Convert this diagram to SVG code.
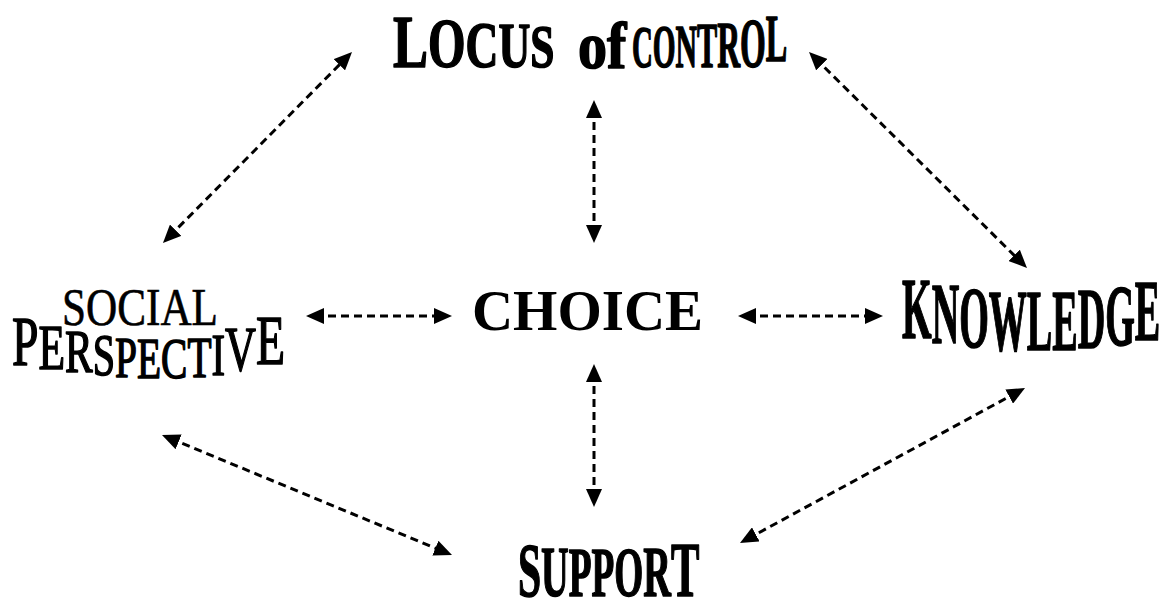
<svg xmlns="http://www.w3.org/2000/svg" width="1173" height="612" viewBox="0 0 1173 612">
  <style>
    .w { font-family: "Liberation Serif", "Times New Roman", serif; fill: #000; }
    .b { font-weight: bold; }
    .heavy { stroke: #000; stroke-width: 1.6; stroke-linejoin: round; }
    .link { fill: none; stroke: #000; stroke-width: 3; stroke-dasharray: 8 5; }
  </style>
  <defs>
    <marker id="head" markerUnits="userSpaceOnUse" markerWidth="18" markerHeight="16" viewBox="0 0 18 16" refX="9" refY="8" orient="auto-start-reverse">
      <path d="M0,0 L18,8 L0,16 z" fill="#000"/>
    </marker>
  </defs>
  <rect width="1173" height="612" fill="#fff"/>

  <!-- connectors: two-way dashed arrows -->
  <g id="connectors">
    <line class="link" x1="169.3" y1="236.6" x2="345.7" y2="58.4" marker-start="url(#head)" marker-end="url(#head)"/>
    <line class="link" x1="594" y1="109" x2="594" y2="234" marker-start="url(#head)" marker-end="url(#head)"/>
    <line class="link" x1="815.4" y1="58.3" x2="1020.6" y2="261.7" marker-start="url(#head)" marker-end="url(#head)"/>
    <line class="link" x1="315" y1="316" x2="443" y2="316" marker-start="url(#head)" marker-end="url(#head)"/>
    <line class="link" x1="747" y1="316" x2="874" y2="316" marker-start="url(#head)" marker-end="url(#head)"/>
    <line class="link" x1="594" y1="373" x2="594" y2="498" marker-start="url(#head)" marker-end="url(#head)"/>
    <line class="link" x1="170.3" y1="438.4" x2="443.7" y2="551.6" marker-start="url(#head)" marker-end="url(#head)"/>
    <line class="link" x1="1017.1" y1="392.3" x2="747.9" y2="538.7" marker-start="url(#head)" marker-end="url(#head)"/>
  </g>

  <!-- top: arched title -->
  <g id="locus-of-control">
    <text class="w b heavy" transform="translate(393,0) scale(0.7,1)" x="0" y="67"><tspan font-size="75">L</tspan><tspan font-size="69">O</tspan><tspan font-size="65">C</tspan><tspan font-size="63">U</tspan><tspan font-size="62">S</tspan></text>
    <text class="w b heavy" transform="translate(578,0) scale(0.88,1)" x="0" y="68" font-size="66">of</text>
    <text class="w b heavy" transform="translate(632,0) scale(0.48,1)" x="0" y="67"><tspan font-size="60">C</tspan><tspan font-size="61">O</tspan><tspan font-size="62">N</tspan><tspan font-size="63">T</tspan><tspan font-size="66">R</tspan><tspan font-size="69">O</tspan><tspan font-size="67" y="61">L</tspan></text>
  </g>

  <!-- centre -->
  <g id="choice">
    <text class="w b" x="587.5" y="330" font-size="57" text-anchor="middle">CHOICE</text>
  </g>

  <!-- left -->
  <g id="social-perspective">
    <text class="w" x="62" y="325" font-size="53" textLength="156" lengthAdjust="spacingAndGlyphs" stroke="#000" stroke-width="0.6">SOCIAL</text>
    <text class="w heavy" transform="translate(12,0) scale(0.68,1)" x="0"><tspan y="365" font-size="70">P</tspan><tspan y="369" font-size="64">E</tspan><tspan y="372" font-size="61">R</tspan><tspan y="375" font-size="59">S</tspan><tspan y="377" font-size="58">P</tspan><tspan y="378" font-size="58">E</tspan><tspan y="378" font-size="58">C</tspan><tspan y="377" font-size="58">T</tspan><tspan y="375" font-size="60">I</tspan><tspan y="371" font-size="63">V</tspan><tspan y="364" font-size="70">E</tspan></text>
  </g>

  <!-- right -->
  <g id="knowledge">
    <text class="w b heavy" transform="translate(902,0) scale(0.443,1)" x="0" font-size="86"><tspan y="338">K</tspan><tspan y="343">N</tspan><tspan y="347">O</tspan><tspan y="350">W</tspan><tspan y="350">L</tspan><tspan y="350">E</tspan><tspan y="348">D</tspan><tspan y="345">G</tspan><tspan y="340">E</tspan></text>
  </g>

  <!-- bottom -->
  <g id="support">
    <text class="w b heavy" transform="translate(518,0) scale(0.54,1)" x="0" y="596"><tspan font-size="77">S</tspan><tspan font-size="71">U</tspan><tspan font-size="69">P</tspan><tspan font-size="69">P</tspan><tspan font-size="69">O</tspan><tspan font-size="71">R</tspan><tspan font-size="79">T</tspan></text>
  </g>
</svg>
